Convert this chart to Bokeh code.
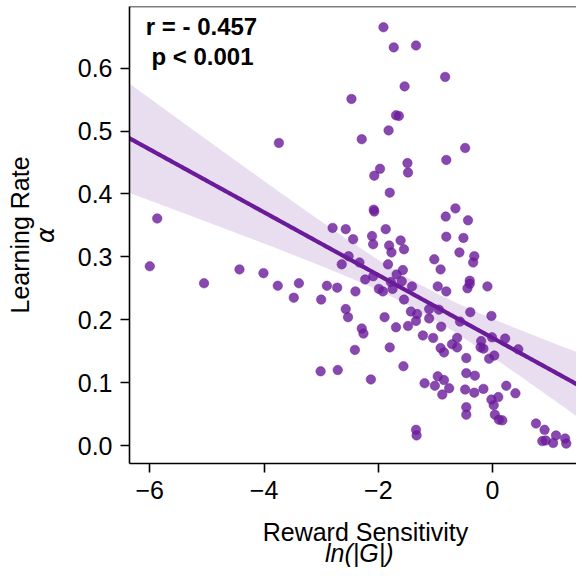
import numpy as np
from bokeh.plotting import figure
from bokeh.models import (Range1d, LinearAxis, FixedTicker, Label, Span,
                          ColumnDataSource)
from bokeh.embed import file_html
from bokeh.resources import INLINE

# ---- data ----
reward_sensitivity = [
    -1.91, -1.73, -1.34, -0.83, -1.54, -2.47, -1.69, -1.64, -1.82, -2.29,
    -0.48, -0.81, -1.97, -2.07, -1.49, -1.48, -1.80, -2.08, -2.07, -0.65,
    -0.82, -0.43, -2.80, -2.57, -1.87, -2.44, -2.11, -1.61, -0.81, -0.51,
    -3.74, -5.87, -2.09, -1.81, -1.55, -6.00, -5.05, -4.43, -4.01, -3.76,
    -3.39, -3.48, -3.00, -2.90, -2.72, -1.77, -2.52, -2.33, -2.64, -2.23,
    -2.40, -2.09, -1.83, -1.68, -1.57, -1.78, -1.59, -1.99, -1.92, -1.75,
    -1.41, -1.55, -1.43, -1.32, -1.34, -1.48, -1.69, -1.89, -2.29, -2.26,
    -2.57, -2.53, -2.41, -1.80, -3.01, -2.71, -2.13, -1.56, -1.34, -1.33,
    -1.02, -0.91, -0.58, -0.32, -0.34, -0.40, -0.40, -0.44, -0.09, -0.96,
    -0.81, -1.11, -0.94, -1.11, -0.90, -0.39, -0.02, -0.57, -1.22, -1.04,
    -0.62, -0.71, -0.62, -0.91, -0.85, -0.46, -0.20, -0.21, -0.16, -0.01,
    0.22, 0.45, -0.06, 0.03, -0.46, -0.31, -0.96, -0.85, -0.76, -1.19,
    -1.01, -0.88, -0.48, -0.32, -0.16, 0.24, 0.40, -0.02, 0.10, 0.02,
    -0.46, -0.46, 0.04, 0.11, 0.17, 0.76, 0.91, 1.11, 1.27, 0.87,
    0.93, 1.06, 1.29,
]
learning_rate = [
    0.665, 0.633, 0.636, 0.586, 0.571, 0.551, 0.525, 0.524, 0.501, 0.487,
    0.473, 0.454, 0.440, 0.429, 0.449, 0.434, 0.402, 0.375, 0.372, 0.377,
    0.364, 0.358, 0.346, 0.344, 0.344, 0.328, 0.333, 0.326, 0.332, 0.330,
    0.481, 0.361, 0.320, 0.318, 0.312, 0.285, 0.258, 0.280, 0.274, 0.254,
    0.258, 0.235, 0.232, 0.254, 0.251, 0.307, 0.301, 0.291, 0.288, 0.264,
    0.245, 0.269, 0.288, 0.272, 0.279, 0.260, 0.261, 0.249, 0.245, 0.249,
    0.253, 0.232, 0.213, 0.209, 0.198, 0.190, 0.188, 0.204, 0.186, 0.178,
    0.217, 0.204, 0.152, 0.156, 0.118, 0.120, 0.105, 0.126, 0.025, 0.016,
    0.296, 0.280, 0.307, 0.301, 0.291, 0.262, 0.257, 0.250, 0.253, 0.253,
    0.245, 0.217, 0.216, 0.202, 0.189, 0.212, 0.206, 0.197, 0.175, 0.171,
    0.171, 0.161, 0.156, 0.155, 0.148, 0.139, 0.166, 0.156, 0.154, 0.172,
    0.170, 0.153, 0.138, 0.143, 0.115, 0.111, 0.110, 0.104, 0.091, 0.099,
    0.095, 0.081, 0.089, 0.084, 0.090, 0.095, 0.083, 0.073, 0.077, 0.064,
    0.061, 0.049, 0.049, 0.041, 0.040, 0.035, 0.025, 0.016, 0.011, 0.007,
    0.008, 0.004, 0.003,
]
x_ticks = [-6, -4, -2, 0]
x_tick_labels = ["\u22126", "\u22124", "\u22122", "0"]
y_ticks = [0.0, 0.1, 0.2, 0.3, 0.4, 0.5, 0.6]
y_tick_labels = ["0.0", "0.1", "0.2", "0.3", "0.4", "0.5", "0.6"]
stats_lines = ["r = - 0.457", "p < 0.001"]
x_title = "Reward Sensitivity"
x_subtitle = "ln(|G|)"
y_title = "Learning Rate"
y_subtitle = "\u03b1"

PURPLE = "#6A1B9A"
FONT = "Liberation Sans"

x_lo, x_hi = -6.355, 1.469
y_lo, y_hi = -0.0286, 0.698

p = figure(width=576, height=571, output_backend="svg", toolbar_location=None,
           x_range=Range1d(x_lo, x_hi), y_range=Range1d(y_lo, y_hi),
           min_border_left=129, min_border_right=0, min_border_top=6,
           min_border_bottom=108)
p.outline_line_color = None
p.grid.visible = False
p.background_fill_color = "white"
p.border_fill_color = "white"

xs = np.array(reward_sensitivity)
ys = np.array(learning_rate)

# scatter
p.scatter(xs, ys, size=9.5, fill_color=PURPLE, fill_alpha=0.8,
          line_color=PURPLE, line_alpha=0.45, line_width=1)

# linear regression with 95% confidence band
n = len(xs)
slope, intercept = np.polyfit(xs, ys, 1)
resid = ys - (slope * xs + intercept)
s = np.sqrt(np.sum(resid ** 2) / (n - 2))
xbar = xs.mean()
sxx = np.sum((xs - xbar) ** 2)
grid = np.linspace(x_lo - 0.5, x_hi + 0.5, 200)
fit = slope * grid + intercept
se = s * np.sqrt(1.0 / n + (grid - xbar) ** 2 / sxx)
tval = 1.977
src = ColumnDataSource(dict(x=grid, y=fit, lo=fit - tval * se, hi=fit + tval * se))
p.varea(x="x", y1="lo", y2="hi", source=src, fill_color=PURPLE, fill_alpha=0.15)
p.line(x="x", y="y", source=src, line_color=PURPLE, line_width=4.2)

# axes styling
def style_axis(ax, size="25px"):
    ax.axis_line_color = "black"
    ax.axis_line_width = 1.6
    ax.major_tick_line_color = "black"
    ax.major_tick_line_width = 1.6
    ax.major_tick_in = 0
    ax.major_tick_out = 9
    ax.minor_tick_line_color = None
    ax.major_label_text_font = FONT
    ax.major_label_text_font_size = size
    ax.major_label_text_color = "black"
    ax.axis_label_text_font = FONT
    ax.axis_label_text_font_size = size
    ax.axis_label_text_font_style = "normal"
    ax.axis_label_text_color = "black"

xa = p.xaxis[0]
style_axis(xa)
xa.ticker = FixedTicker(ticks=x_ticks)
xa.major_label_overrides = dict(zip(x_ticks, x_tick_labels))
xa.major_label_standoff = 8
xa.axis_label = "\u2003" + x_title
xa.axis_label_standoff = 16

ya = p.yaxis[0]
style_axis(ya)
ya.ticker = FixedTicker(ticks=y_ticks)
ya.major_label_overrides = dict(zip(y_ticks, y_tick_labels))
ya.major_label_standoff = 8
ya.axis_label = y_subtitle
ya.axis_label_text_font = "DejaVu Sans"
ya.axis_label_text_font_style = "italic"
ya.axis_label_text_font_size = "24px"
ya.axis_label_standoff = 15

def blank_axis(label, standoff):
    ax = LinearAxis(ticker=FixedTicker(ticks=[]))
    style_axis(ax)
    ax.axis_line_color = None
    ax.major_tick_out = 0
    ax.major_label_standoff = 0
    ax.axis_label = label
    ax.axis_label_standoff = standoff
    return ax

x2 = blank_axis("\u2002" + x_subtitle, -10)
x2.axis_label_text_font_style = "italic"
p.add_layout(x2, "below")

y2 = blank_axis(y_title, -5)
p.add_layout(y2, "left")

# top spine
p.add_layout(Span(location=y_hi, dimension="width", line_color="black",
                  line_width=1.6))

# statistics annotation
p.add_layout(Label(x=-6.07, y=0.666, text=stats_lines[0], text_font=FONT,
                   text_font_style="bold", text_font_size="24px",
                   text_color="black", text_baseline="alphabetic"))
p.add_layout(Label(x=-5.97, y=0.619, text=stats_lines[1], text_font=FONT,
                   text_font_style="bold", text_font_size="24px",
                   text_color="black", text_baseline="alphabetic"))

open("out.html", "w").write(file_html(p, INLINE))
